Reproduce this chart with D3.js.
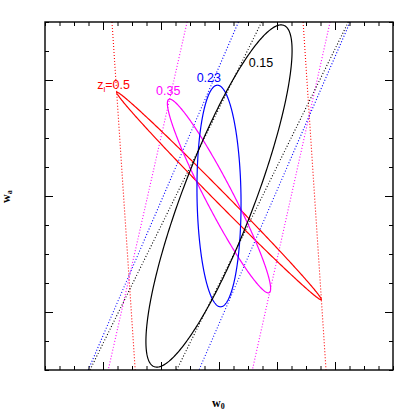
<!DOCTYPE html>
<html><head><meta charset="utf-8">
<script src="https://cdn.jsdelivr.net/npm/d3@7"></script>
<style>body{margin:0;background:#fff}svg{display:block}</style>
</head><body><svg id="c" width="415" height="415"></svg>
<script>
// ---- data (w0, wa units) ----
const redshifts = ["0.5", "0.35", "0.23", "0.15"];
const colors = ["#ff0000", "#ff00ff", "#0000ff", "#000000"];
const centerW0 = [-1.0, -1.0, -1.0, -1.0];
const centerWa = [0.0, 0.0, 0.0, 0.0];
const sigmaW0 = [0.353, 0.178, 0.076, 0.252];
const sigmaWa = [1.79, 1.67, 1.91, 2.95];
const corr = [-0.997, -0.955, -0.07, 0.85];
// dotted degeneracy lines: w0 at wa=top and wa=bottom
const lineTopW0 = [[-1.369, -0.710], [-1.110, -0.617], [-0.933, -0.548], [-0.853, -0.554]];
const lineBotW0 = [[-1.289, -0.631], [-1.382, -0.885], [-1.451, -1.069], [-1.445, -1.146]];
const xDomain = [-1.6, -0.4];
const yDomain = [-3, 3];
const xMinorTicks = d3.range(0, 25).map(i => -1.6 + i * 0.05);
const xMajorTicks = [-1.4, -1.2, -1.0, -0.8, -0.6];
const yMinorTicks = d3.range(0, 13).map(i => -3 + i * 0.5);
const yMajorTicks = [-2, 0, 2];

// ---- layout ----
const L = 45, R = 393, T = 22, B = 370;
const svg = d3.select("#c");
const x = d3.scaleLinear().domain(xDomain).range([L, R]);
const y = d3.scaleLinear().domain(yDomain).range([B, T]);

svg.append("defs").append("clipPath").attr("id", "clip")
  .append("rect").attr("x", L).attr("y", T).attr("width", R - L).attr("height", B - T);

const plot = svg.append("g").attr("clip-path", "url(#clip)");

// dotted lines
colors.forEach((c, i) => {
  [0, 1].forEach(j => {
    plot.append("line")
      .attr("x1", x(lineTopW0[i][j])).attr("y1", y(yDomain[1]))
      .attr("x2", x(lineBotW0[i][j])).attr("y2", y(yDomain[0]))
      .attr("stroke", c).attr("stroke-width", 1.1)
      .attr("stroke-dasharray", "1,2");
  });
});

// ellipses
const ts = d3.range(0, 361, 1).map(d => d * Math.PI / 180);
const lineGen = d3.line().x(d => x(d[0])).y(d => y(d[1]));
colors.forEach((c, i) => {
  const s = Math.sqrt(1 - corr[i] * corr[i]);
  const pts = ts.map(t => [
    centerW0[i] + sigmaW0[i] * Math.cos(t),
    centerWa[i] + sigmaWa[i] * (corr[i] * Math.cos(t) + s * Math.sin(t))
  ]);
  plot.append("path").attr("d", lineGen(pts) + "Z")
    .attr("fill", "none").attr("stroke", c).attr("stroke-width", 1.2);
});

// labels
const labelPos = [[-1.420, 1.84], [-1.217, 1.741], [-1.077, 1.971], [-0.897, 2.219]];
colors.forEach((c, i) => {
  const t = svg.append("text").attr("x", x(labelPos[i][0])).attr("y", y(labelPos[i][1]))
    .attr("fill", c).attr("font-family", "Liberation Sans, Arial, sans-serif").attr("font-size", 12.5);
  if (i === 0) {
    t.append("tspan").text("z");
    t.append("tspan").attr("font-size", 8).attr("dy", 3).text("l");
    t.append("tspan").attr("dy", -3).text("=" + redshifts[i]);
  } else {
    t.text(redshifts[i]);
  }
});

// ticks
function tickAxis(axisFn, scale, vals, size, transform) {
  svg.append("g").attr("transform", transform)
    .call(axisFn(scale).tickValues(vals).tickSize(size).tickFormat("").tickSizeOuter(0))
    .call(g => g.select(".domain").remove())
    .call(g => g.selectAll("line").attr("stroke", "#000").attr("stroke-width", 1));
}
tickAxis(d3.axisBottom, x, xMinorTicks, -4, `translate(0,${B})`);
tickAxis(d3.axisBottom, x, xMajorTicks, -8, `translate(0,${B})`);
tickAxis(d3.axisTop, x, xMinorTicks, -4, `translate(0,${T})`);
tickAxis(d3.axisTop, x, xMajorTicks, -8, `translate(0,${T})`);
tickAxis(d3.axisLeft, y, yMinorTicks, -4, `translate(${L},0)`);
tickAxis(d3.axisLeft, y, yMajorTicks, -8, `translate(${L},0)`);
tickAxis(d3.axisRight, y, yMinorTicks, -4, `translate(${R},0)`);
tickAxis(d3.axisRight, y, yMajorTicks, -8, `translate(${R},0)`);

svg.append("rect").attr("x", L).attr("y", T).attr("width", R - L).attr("height", B - T)
  .attr("fill", "none").attr("stroke", "#000").attr("stroke-width", 1.4);

// axis titles
const xt = svg.append("text").attr("x", 212).attr("y", 407)
  .attr("font-family", "Liberation Serif, Times New Roman, serif").attr("font-weight", "bold").attr("font-size", 12);
xt.append("tspan").text("w");
xt.append("tspan").attr("font-size", 8).attr("dy", 2).text("0");

const yt = svg.append("text").attr("transform", "translate(10,203) rotate(-90)")
  .attr("font-family", "Liberation Serif, Times New Roman, serif").attr("font-weight", "bold").attr("font-size", 12);
yt.append("tspan").text("w");
yt.append("tspan").attr("font-size", 8).attr("dy", 2).text("a");
</script></body></html>
